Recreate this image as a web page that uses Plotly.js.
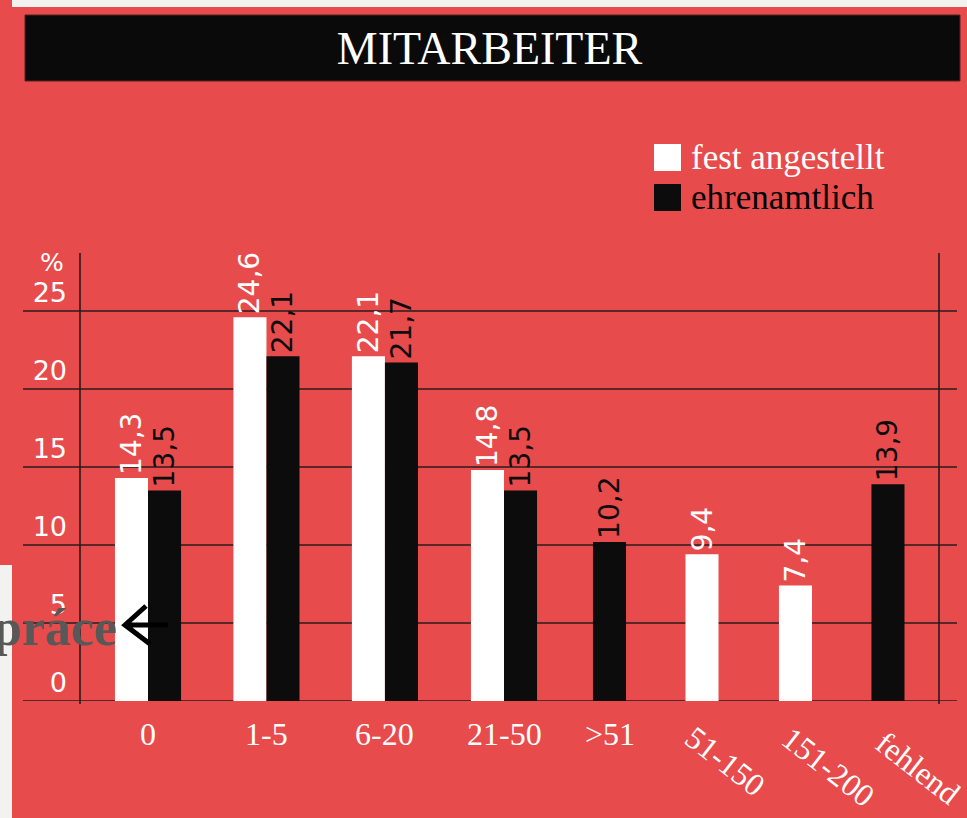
<!DOCTYPE html>
<html>
<head>
<meta charset="utf-8">
<script src="https://cdn.plot.ly/plotly-3.0.1.min.js"></script>
<style>
  html, body { margin: 0; padding: 0; background: #E84B4C; }
  #chart { width: 967px; height: 818px; }
</style>
</head>
<body>
<div id="chart"></div>
<script>
// ---------------- data ----------------
const categories = ['0', '1-5', '6-20', '21-50', '>51', '51-150', '151-200', 'fehlend'];
const festAngestellt = [14.3, 24.6, 22.1, 14.8, null, 9.4, 7.4, null];
const ehrenamtlich   = [13.5, 22.1, 21.7, 13.5, 10.2, null, null, 13.9];
const seriesNames = ['fest angestellt', 'ehrenamtlich'];
const yTicks = [0, 5, 10, 15, 20, 25];
const titleText = 'MITARBEITER';

// ---------------- layout helpers ----------------
const RED = '#E84B4C', WHITE = '#FFFFFF', BLACK = '#0C0C0C', GRID = '#2A1B1B';
const L = 80, R = 939, TOP = 253, BOT = 701;
const PX = x => (x - L) / (R - L);
const PY = y => (BOT - y) / (BOT - TOP);
// category centre positions on the x axis (uneven spacing as in the original)
const catPos = [0, 1.004, 2.008, 3.017, 3.911, 4.695, 5.487, 6.271];
const barW = 0.28;
// x label style: angle, x shift, y centre (px)
const labelStyle = [
  {a: 0, dx: 0, y: 734}, {a: 0, dx: 0, y: 734}, {a: 0, dx: 0, y: 734}, {a: 0, dx: 0, y: 734},
  {a: 0, dx: 0, y: 734}, {a: 38, dx: 23, y: 761}, {a: 38, dx: 33, y: 767}, {a: 38, dx: 30, y: 768}
];

const fmt = v => (v === null ? '' : v.toFixed(1).replace('.', ','));

// offsets: paired bars side by side, single bars centred
const offA = festAngestellt.map((v, i) => ehrenamtlich[i] === null ? -barW / 2 : -barW);
const offB = ehrenamtlich.map((v, i) => festAngestellt[i] === null ? -barW / 2 : 0);

const labelFont = {family: 'DejaVu Sans', size: 28};

const traces = [
  {
    type: 'bar', name: seriesNames[0], x: catPos, y: festAngestellt,
    width: barW, offset: offA,
    marker: {color: WHITE, line: {width: 0}},
    text: festAngestellt.map(fmt), textposition: 'outside', textangle: -90,
    textfont: Object.assign({color: WHITE}, labelFont),
    constraintext: 'none', cliponaxis: false, hoverinfo: 'skip'
  },
  {
    type: 'bar', name: seriesNames[1], x: catPos, y: ehrenamtlich,
    width: barW, offset: offB,
    marker: {color: BLACK, line: {width: 0}},
    text: ehrenamtlich.map(fmt), textposition: 'outside', textangle: -90,
    textfont: Object.assign({color: BLACK}, labelFont),
    constraintext: 'none', cliponaxis: false, hoverinfo: 'skip'
  }
];

const shapes = [];
// top light strip
shapes.push({type: 'rect', xref: 'paper', yref: 'paper', x0: PX(12), x1: PX(967), y0: PY(0), y1: PY(7),
  fillcolor: '#F2F2F0', line: {width: 0}, layer: 'below'});
// title bar
shapes.push({type: 'rect', xref: 'paper', yref: 'paper', x0: PX(25), x1: PX(960), y0: PY(15), y1: PY(81),
  fillcolor: '#0A0A0A', line: {width: 1, color: '#5a2020'}, layer: 'below'});
// grid lines
yTicks.forEach(t => shapes.push({type: 'line', xref: 'paper', yref: 'y', x0: PX(23), x1: PX(957), y0: t, y1: t,
  line: {color: GRID, width: 1.6}, layer: 'below'}));
// vertical frame lines
[0, 1].forEach(p => shapes.push({type: 'line', xref: 'paper', yref: 'paper', x0: p, x1: p, y0: PY(704), y1: 1,
  line: {color: GRID, width: 1.6}, layer: 'below'}));
// legend squares
shapes.push({type: 'rect', xref: 'paper', yref: 'paper', x0: PX(654), x1: PX(681), y0: PY(144), y1: PY(171),
  fillcolor: WHITE, line: {width: 0}});
shapes.push({type: 'rect', xref: 'paper', yref: 'paper', x0: PX(654), x1: PX(681), y0: PY(184), y1: PY(211),
  fillcolor: BLACK, line: {width: 0}});
// overlay box bottom-left
shapes.push({type: 'rect', xref: 'paper', yref: 'paper', x0: PX(0), x1: PX(12), y0: PY(565), y1: PY(818),
  fillcolor: '#F2F2F0', line: {width: 0}});
// overlay arrow
shapes.push({type: 'path', xref: 'paper', yref: 'paper',
  path: `M${PX(124)},${PY(625)} L${PX(168)},${PY(625)} M${PX(146)},${PY(606)} L${PX(125)},${PY(625)} L${PX(150)},${PY(644)}`,
  line: {color: '#000000', width: 5}});

const annotations = [];
// x category labels
categories.forEach((c, i) => annotations.push({
  text: c, x: catPos[i], xref: 'x', y: PY(labelStyle[i].y), yref: 'paper',
  xanchor: 'center', yanchor: 'middle', xshift: labelStyle[i].dx, textangle: labelStyle[i].a,
  showarrow: false, font: {family: 'Liberation Serif', size: 32, color: WHITE}
}));
// % label
annotations.push({text: '%', x: PX(66), y: PY(262), xref: 'paper', yref: 'paper', xanchor: 'right', yanchor: 'middle',
  showarrow: false, font: {family: 'DejaVu Sans', size: 25, color: WHITE}});
// legend labels
annotations.push({text: seriesNames[0], x: PX(689), y: PY(157), xref: 'paper', yref: 'paper', xanchor: 'left', yanchor: 'middle',
  showarrow: false, font: {family: 'Liberation Serif', size: 35, color: WHITE}});
annotations.push({text: seriesNames[1], x: PX(689), y: PY(197), xref: 'paper', yref: 'paper', xanchor: 'left', yanchor: 'middle',
  showarrow: false, font: {family: 'Liberation Serif', size: 35, color: '#000000'}});
// overlay text
annotations.push({text: '<b>práce</b>', x: PX(119), y: PY(627), xref: 'paper', yref: 'paper', xanchor: 'right', yanchor: 'middle',
  showarrow: false, font: {family: 'Liberation Serif', size: 52, color: '#585858'}});

const layout = {
  width: 967, height: 818,
  margin: {l: L, r: 967 - R, t: TOP, b: 818 - BOT, pad: 0},
  paper_bgcolor: RED, plot_bgcolor: 'rgba(0,0,0,0)',
  barmode: 'overlay', showlegend: false,
  title: {text: titleText, x: 489.5 / 967, xanchor: 'center', y: 1 - 48 / 818, yanchor: 'middle',
    font: {family: 'Liberation Serif', size: 46, color: WHITE}},
  xaxis: {range: [(L - 148) / 118, (R - 148) / 118], showticklabels: false, showgrid: false, zeroline: false,
    showline: false, ticks: '', fixedrange: true},
  yaxis: {range: [0, (BOT - TOP) / 15.6], tickvals: yTicks, ticktext: yTicks.map(String),
    ticklabelposition: 'outside top', ticklabelstandoff: 12, ticks: '',
    showgrid: false, zeroline: false, showline: false, fixedrange: true,
    tickfont: {family: 'DejaVu Sans', size: 27, color: WHITE}},
  shapes: shapes, annotations: annotations
};

Plotly.newPlot('chart', traces, layout, {displayModeBar: false, staticPlot: true});
</script>
</body>
</html>
